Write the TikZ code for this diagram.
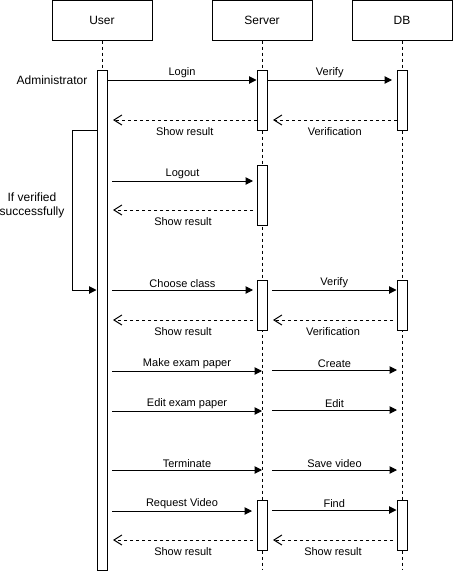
\documentclass[tikz,border=0pt]{standalone}
\usepackage{fontspec}
\setmainfont{Liberation Sans}
\usetikzlibrary{arrows.meta}

\begin{document}
\begin{tikzpicture}[x=0.75pt, y=-0.75pt, line width=0.75pt,
	actor/.style={draw, fill=white, minimum width=75pt, minimum height=30pt, inner sep=0pt, font=\fontsize{9}{11}\selectfont},
	bar/.style={draw, fill=white, minimum width=7.5pt, inner sep=0pt},
	life/.style={dash pattern=on 2.25pt off 2.25pt},
	msg/.style={-{Triangle[length=5.5pt, width=5.5pt]}},
	ret/.style={dash pattern=on 2.25pt off 2.25pt, -{Straight Barb[length=6pt, width=7.5pt]}},
	lbl/.style={font=\fontsize{8.25}{10}\selectfont, inner sep=1.5pt},
	under/.style={below, yshift=-3.5pt}]
	\useasboundingbox (0,0) rectangle (453,571);
	% header boxes and lifelines
	\node[actor] (user) at (102,20) {User};
	\node[actor] (server) at (262,20) {Server};
	\node[actor] (db) at (402,20) {DB};
	\draw[life] (user.south) -- (102,570);
	\draw[life] (server.south) -- (262,570);
	\draw[life] (db.south) -- (402,570);
	% activation bars
	\node[bar, minimum height=375pt] (ub) at (102,320) {};
	\node[bar, minimum height=45pt] (sb1) at (262,100) {};
	\node[bar, minimum height=45pt] (db1) at (402,100) {};
	\node[bar, minimum height=45pt] (sb2) at (262,195) {};
	\node[bar, minimum height=37.5pt] (sb3) at (262,305) {};
	\node[bar, minimum height=37.5pt] (db3) at (402,305) {};
	\node[bar, minimum height=37.5pt] (sb4) at (262,525) {};
	\node[bar, minimum height=37.5pt] (db4) at (402,525) {};
	\coordinate (loopx) at (72,0);
	% login
	\draw[msg] (ub.east |- 0,80) -- node[lbl, above] {Login} (sb1.west |- 0,80);
	\draw[msg] (sb1.east |- 0,80) -- node[lbl, above] {Verify} (392,80);
	\draw[ret] (sb1.west |- 0,120) -- node[lbl, under] {Show result} (113,120);
	\draw[ret] (db1.west |- 0,120) -- node[lbl, under] {Verification} (273,120);
	% loop
	\draw[msg] (ub.west |- 0,130) -| (loopx |- 0,290) -- (ub.west |- 0,290);
	\node[lbl, font=\fontsize{9}{10.5}\selectfont, align=center] (cond) at (32,205) {If verified\\successfully};
	\node[lbl, font=\fontsize{9}{11}\selectfont] (admin) at (52,80) {Administrator};
	% logout
	\draw[msg] (112,181) -- node[lbl, above] {Logout} (253,181);
	\draw[ret] (253,210) -- node[lbl, under] {Show result} (113,210);
	% choose class
	\draw[msg] (112,290) -- node[lbl, above] {Choose class} (253,290);
	\draw[msg] (272,290) -- node[lbl, above] {Verify} (db3.west |- 0,290);
	\draw[ret] (253,320) -- node[lbl, under] {Show result} (113,320);
	\draw[ret] (393,320) -- node[lbl, under] {Verification} (273,320);
	% exam paper
	\draw[msg] (112,371) -- node[lbl, above] {Make exam paper} (server.south |- 0,371);
	\draw[msg] (272,370) -- node[lbl, above] {Create} (397,370);
	\draw[msg] (112,411) -- node[lbl, above] {Edit exam paper} (server.south |- 0,411);
	\draw[msg] (272,410) -- node[lbl, above] {Edit} (397,410);
	% terminate
	\draw[msg] (112,470) -- node[lbl, above] {Terminate} (server.south |- 0,470);
	\draw[msg] (272,470) -- node[lbl, above] {Save video} (397,470);
	% video
	\draw[msg] (112,511) -- node[lbl, above] {Request Video} (252,511);
	\draw[msg] (272,510) -- node[lbl, above] {Find} (db4.west |- 0,510);
	\draw[ret] (253,540) -- node[lbl, under] {Show result} (113,540);
	\draw[ret] (393,540) -- node[lbl, under] {Show result} (273,540);
\end{tikzpicture}
\end{document}
